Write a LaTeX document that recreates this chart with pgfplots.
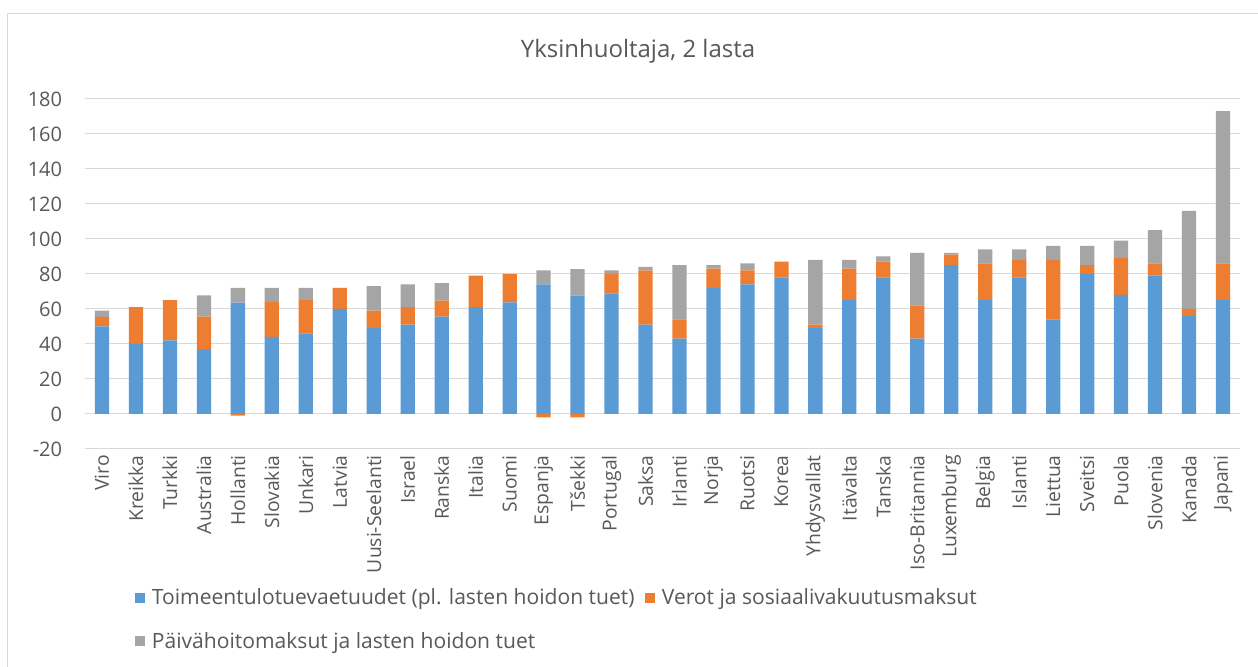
\documentclass[border=0pt]{standalone}
\usepackage{pgfplots}
\pgfplotsset{compat=1.18}
\usepackage{pgfplotstable}
\usepackage{fontspec}
\setmainfont{Open Sans}
\definecolor{cBlue}{HTML}{5B9BD5}
\definecolor{cOrange}{HTML}{ED7D31}
\definecolor{cGray}{HTML}{A5A5A5}
\definecolor{cText}{HTML}{595959}
\definecolor{cGrid}{HTML}{D9D9D9}

\pgfplotstableread{
x blue orange gray
0 50 5.5 3.6
1 40 21 0
2 42 23 0
3 37 18.6 12.2
4 63.6 0 8.4
5 44 20 8
6 46 19 7
7 60 12 0
8 49 10 14
9 51 10 13
10 55.6 9.2 10
11 61 18 0
12 63.8 16.2 0
13 74 0 8
14 67.6 0 15.2
15 68.8 11.2 2
16 51 31 2
17 43 11 31
18 72 11 2
19 74 8 4
20 78 9 0
21 49 2 37
22 65 18 5
23 78 9 3
24 43 19 30
25 85 6 1
26 65 21 8
27 78 10 6
28 54 34 8
29 80 5 11
30 68 21 10
31 79 7 19
32 56 4 56
33 65 21 87
}\datatable

\pgfplotstableread{
x neg
4 -1
13 -2
14 -2
}\negtable

\begin{document}
\begin{tikzpicture}
\useasboundingbox (0,0) rectangle (943.5pt,500.25pt);
\fill[white] (0,0) rectangle (943.5pt,500.25pt);
\draw[cGrid, line width=0.75pt] (5.6pt,0) -- (5.6pt,489.75pt) -- (943.5pt,489.75pt);
\node[text=cText, font=\fontsize{18}{21}\selectfont] at (478.5pt,462pt) {Yksinhuoltaja, 2 lasta};

\begin{axis}[
  at={(63.75pt,163.5pt)}, anchor=south west,
  width=866.25pt, height=262.5pt, scale only axis,
  ybar stacked, bar width=10.7pt,
  xmin=-0.5, xmax=33.5, ymin=-20, ymax=180,
  ytick={-20,0,20,40,60,80,100,120,140,160,180},
  xtick={0,...,33},
  xticklabels={Viro,Kreikka,Turkki,Australia,Hollanti,Slovakia,Unkari,Latvia,Uusi-Seelanti,Israel,Ranska,Italia,Suomi,Espanja,Tšekki,Portugal,Saksa,Irlanti,Norja,Ruotsi,Korea,Yhdysvallat,Itävalta,Tanska,Iso-Britannia,Luxemburg,Belgia,Islanti,Liettua,Sveitsi,Puola,Slovenia,Kanada,Japani},
  axis line style={draw=none},
  tick style={draw=none},
  ymajorgrids, major grid style={cGrid, line width=0.75pt},
  /pgf/number format/assume math mode=true,
  yticklabel style={font=\fontsize{15}{17}\selectfont, text=cText, inner sep=0pt, anchor=east, xshift=-17pt},
  xticklabel style={font=\fontsize{14.5}{17}\selectfont, text=cText, inner sep=0pt, rotate=90, anchor=east},
  xticklabel shift=4.5pt,
  legend columns=2,
  legend cell align=left,
  legend style={at={(0.0433,-0.391)}, anchor=north west, draw=none, fill=none, inner sep=0pt,
    font=\fontsize{15.8}{18}\selectfont, text=cText, row sep=15pt,
    /tikz/every odd column/.append style={column sep=3pt},
    /tikz/every even column/.append style={column sep=6pt}},
  legend image code/.code={\fill[#1] (0pt,-3.75pt) rectangle (7.5pt,3.75pt);},
]
\addplot[fill=cBlue, draw=none] table[x=x,y=blue]{\datatable};
\addplot[fill=cOrange, draw=none] table[x=x,y=orange]{\datatable};
\addplot[fill=cGray, draw=none] table[x=x,y=gray]{\datatable};
\legend{Toimeentulotuevaetuudet (pl. lasten hoidon tuet),Verot ja sosiaalivakuutusmaksut,Päivähoitomaksut ja lasten hoidon tuet}
\end{axis}

\begin{axis}[
  at={(63.75pt,163.5pt)}, anchor=south west,
  width=866.25pt, height=262.5pt, scale only axis,
  hide axis,
  ybar stacked, bar width=10.7pt,
  xmin=-0.5, xmax=33.5, ymin=-20, ymax=180,
]
\addplot[fill=cOrange, draw=none] table[x=x,y=neg]{\negtable};
\end{axis}
\end{tikzpicture}
\end{document}
